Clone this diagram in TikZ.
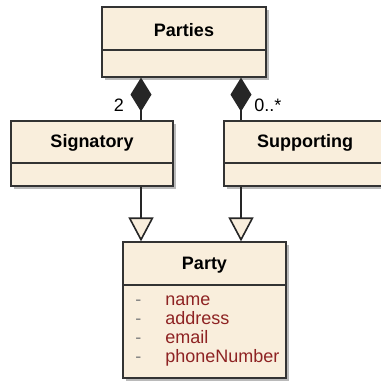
\documentclass[tikz,border=0pt]{standalone}
\usepackage{fontspec}
\setmainfont{Liberation Sans}
\usetikzlibrary{arrows.meta,shadows}
\definecolor{classfill}{HTML}{F9EEDC}
\definecolor{attrred}{HTML}{8E2323}

\begin{document}
\begin{tikzpicture}[x=0.5pt,y=-0.5pt,
    classbox/.style={draw=black!80,fill=classfill,line width=0.6pt,inner sep=0pt,
        drop shadow={shadow xshift=1.5pt,shadow yshift=-1.5pt,fill=black!45,opacity=0.6}},
    classname/.style={font=\fontsize{9}{10}\selectfont\bfseries},
    attr/.style={font=\fontsize{9}{10}\selectfont,text=attrred,anchor=base west,inner sep=0pt},
    mult/.style={font=\fontsize{9}{10}\selectfont,inner sep=0pt},
    divider/.style={draw=black!80,line width=0.6pt},
    comp/.style={{Diamond[length=17pt,width=10.5pt]}-,line width=0.8pt,draw=black!85},
    gen/.style={-{Triangle[length=12pt,width=12.5pt,fill=classfill]},line width=0.8pt,draw=black!85}]
    \clip (0,0) rectangle (381,381);
    % classes
    \node[classbox,minimum width=82pt,minimum height=35pt] (parties) at (184,42) {};
    \node[classbox,minimum width=81pt,minimum height=32.5pt] (signatory) at (92,153.5) {};
    \node[classbox,minimum width=81pt,minimum height=32.5pt] (supporting) at (305,153.5) {};
    \node[classbox,minimum width=81.5pt,minimum height=68pt] (party) at (204.5,310) {};
    \draw[divider] (parties.west |- 0,50) -- (parties.east |- 0,50);
    \draw[divider] (signatory.west |- 0,163) -- (signatory.east |- 0,163);
    \draw[divider] (supporting.west |- 0,163) -- (supporting.east |- 0,163);
    \draw[divider] (party.west |- 0,285) -- (party.east |- 0,285);
    \node[classname] (partiesname) at (184,30) {Parties};
    \node[classname] (signame) at (92,143) {Signatory};
    \node[classname] (supname) at (305,143) {Supporting};
    \node[classname] (partyname) at (204.5,265) {Party};
    \foreach \n/\y in {name/305,address/324,email/343,phoneNumber/362} {
        \node[attr,text=black!50] (dash\y) at (135,\y) {-};
        \node[attr] (attr\y) at (165,\y) {\n};
    }
    % connectors
    \coordinate (lx) at (141,0);
    \coordinate (rx) at (241,0);
    \draw[comp] (parties.south -| lx) -- (signatory.north -| lx);
    \draw[comp] (parties.south -| rx) -- (supporting.north -| rx);
    \draw[gen] (signatory.south -| lx) -- (party.north -| lx);
    \draw[gen] (supporting.south -| rx) -- (party.north -| rx);
    \node[mult] (multtwo) at (119,105) {2};
    \node[mult,anchor=west] (multmany) at (254,105) {0..*};
\end{tikzpicture}
\end{document}
